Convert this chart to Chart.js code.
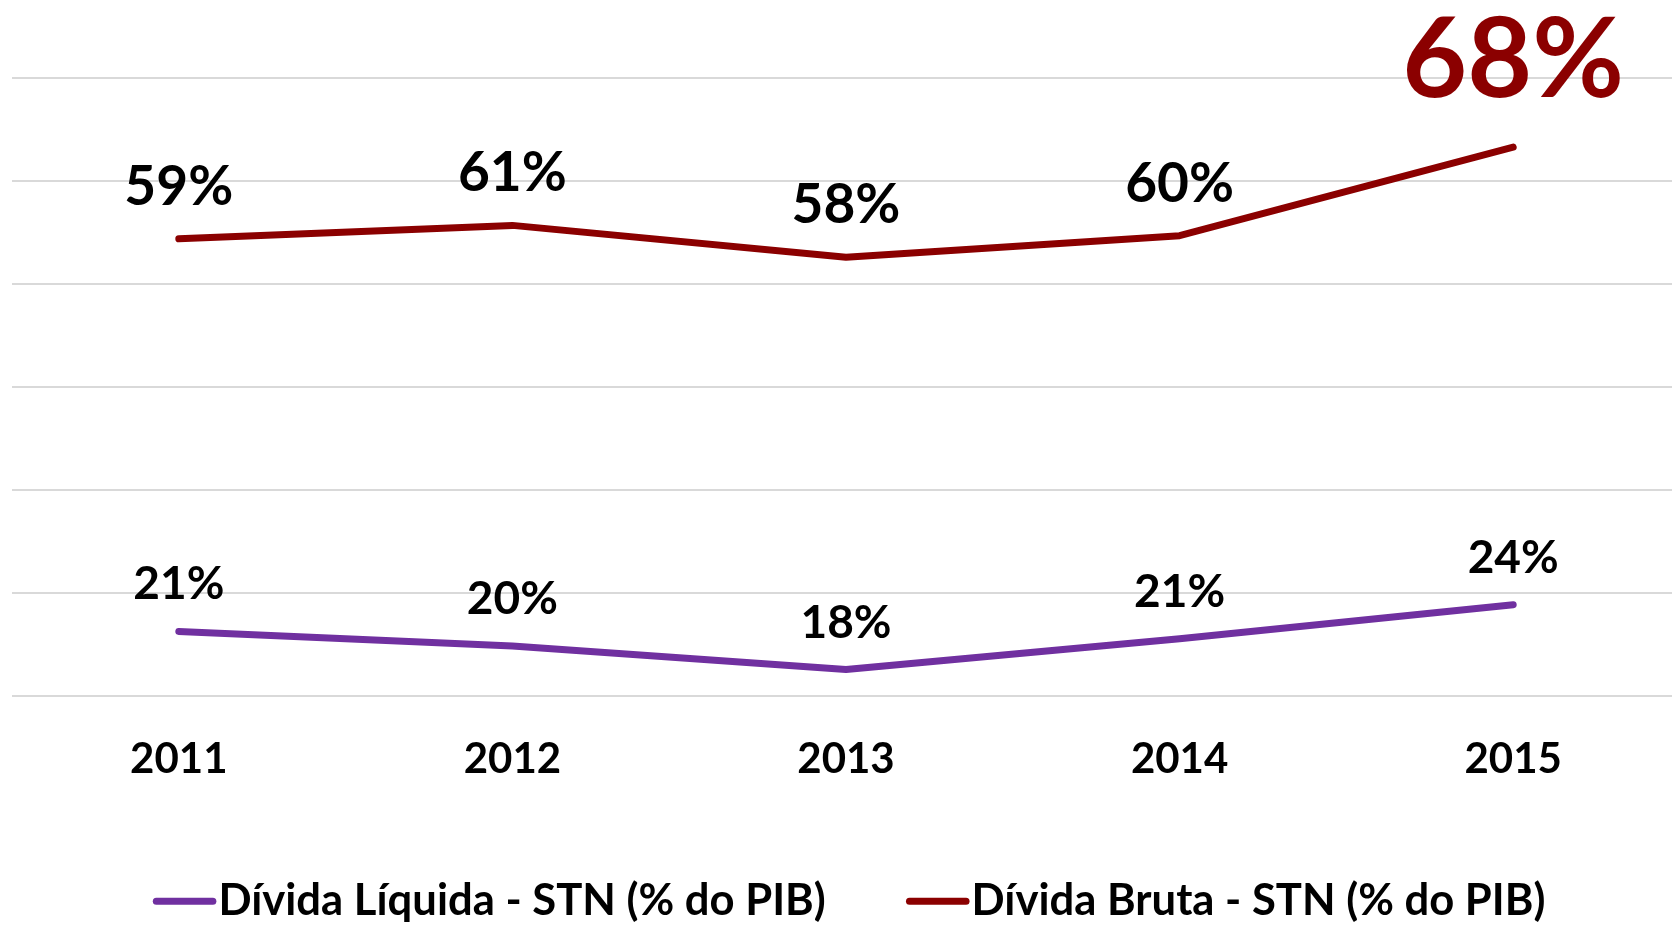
<!DOCTYPE html>
<html>
<head>
<meta charset="utf-8">
<script src="https://cdn.jsdelivr.net/npm/chart.js@4/dist/chart.umd.min.js"></script>
<style>
  html, body { margin: 0; padding: 0; background: #fff; overflow: hidden; }
  #wrap { width: 1700px; height: 925px; }
</style>
</head>
<body>
<div id="wrap"><canvas id="lineChart"></canvas></div>
<script>
'use strict';

// values (% of GDP)
var years = ['2011', '2012', '2013', '2014', '2015'];
var liquida = [21.3, 19.9, 17.6, 20.6, 23.9];
var bruta = [59.4, 60.7, 57.6, 59.7, 68.3];
var seriesNames = ['Dívida Líquida - STN (% do PIB)', 'Dívida Bruta - STN (% do PIB)'];

var purple = '#7030A0';
var darkRed = '#8B0000';
var fontFamily = 'Lato, "Open Sans", sans-serif';

/**
 * Draws the value label above every point
 */
var valueLabels = {
  id: 'valueLabels',
  afterDatasetsDraw: function(chart) {
    var ctx = chart.ctx;
    ctx.save();
    ctx.textAlign = 'center';
    ctx.textBaseline = 'alphabetic';
    chart.data.datasets.forEach(function(ds, i) {
      var meta = chart.getDatasetMeta(i);
      meta.data.forEach(function(pt, j) {
        var size = 46, offset = 32, color = '#000';
        if (i === 1) { size = 55; offset = 34; }
        if (i === 1 && j === ds.data.length - 1) { size = 112; offset = 50; color = darkRed; }
        ctx.font = 'bold ' + size + 'px ' + fontFamily;
        ctx.fillStyle = color;
        ctx.fillText(Math.round(ds.data[j]) + '%', pt.x, pt.y - offset);
      });
    });
    ctx.restore();
  }
};

// nudge the legend a bit to the right, like in the original
var legendShift = {
  id: 'legendShift',
  afterLayout: function(chart) {
    chart.legend.left += 13;
    chart.legend.right += 13;
  }
};

var canvasContext = document.getElementById('lineChart').getContext('2d');

new Chart(canvasContext, {
  type: 'line',
  data: {
    labels: years,
    datasets: [{
      label: seriesNames[0],
      data: liquida,
      borderColor: purple,
      backgroundColor: purple,
      borderWidth: 7,
      borderCapStyle: 'round',
      borderJoinStyle: 'round',
      pointRadius: 0,
      tension: 0
    }, {
      label: seriesNames[1],
      data: bruta,
      borderColor: darkRed,
      backgroundColor: darkRed,
      borderWidth: 7,
      borderCapStyle: 'round',
      borderJoinStyle: 'round',
      pointRadius: 0,
      tension: 0
    }]
  },
  options: {
    responsive: true,
    maintainAspectRatio: false,
    animation: false,
    layout: { padding: { top: 78, left: 12, right: 20, bottom: -8 } },
    plugins: {
      tooltip: { enabled: false },
      legend: {
        position: 'bottom',
        labels: {
          usePointStyle: true,
          pointStyle: 'line',
          boxWidth: 24,
          boxHeight: 40,
          padding: 100,
          color: '#000',
          font: { family: fontFamily, size: 43.6, weight: 'bold' },
          generateLabels: function(chart) {
            return Chart.defaults.plugins.legend.labels.generateLabels(chart).map(function(item) {
              item.lineWidth = 7;
              item.lineCap = 'round';
              return item;
            });
          }
        }
      }
    },
    scales: {
      x: {
        offset: true,
        grid: { display: false, drawTicks: false },
        border: { display: false },
        ticks: {
          padding: 38,
          color: '#000',
          font: { family: fontFamily, size: 42, weight: 'bold' }
        },
        afterFit: function(scale) { scale.height = 83; }
      },
      y: {
        min: 15,
        max: 75,
        ticks: { display: false, stepSize: 10 },
        grid: { color: '#d9d9d9', lineWidth: 2, drawTicks: false },
        border: { display: false }
      }
    }
  },
  plugins: [valueLabels, legendShift]
});
</script>
</body>
</html>
